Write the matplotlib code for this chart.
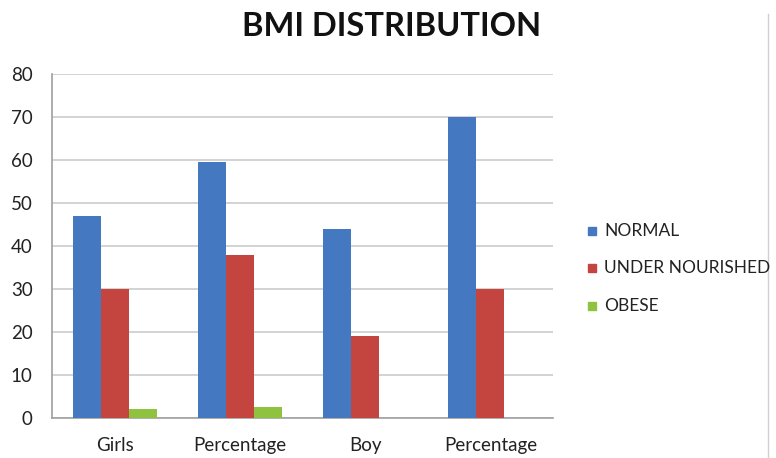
import matplotlib.pyplot as plt
import numpy as np

plt.rcParams['font.family'] = ['Lato', 'DejaVu Sans']

categories = ['Girls', 'Percentage', 'Boy', 'Percentage']
normal = [47, 59.5, 44, 70]
under_nourished = [30, 38, 19, 30]
obese = [2, 2.5, 0, 0]

series = [
    ('NORMAL', normal, '#4479c2'),
    ('UNDER NOURISHED', under_nourished, '#c4453f'),
    ('OBESE', obese, '#8fc23e'),
]

fig = plt.figure(figsize=(7.76, 4.58), dpi=100)
ax = fig.add_axes([0.067, 0.0873, 0.6456, 0.7511])

x = np.arange(len(categories))
w = 0.224
for i, (name, vals, col) in enumerate(series):
    ax.bar(x + (i - 1) * w, vals, width=w, color=col, label=name, zorder=3)

ax.set_xlim(-0.5, len(categories) - 0.5)
ax.set_ylim(0, 80)
ax.set_yticks(range(0, 81, 10))
ax.set_xticks(x)
ax.set_xticklabels(categories)

ax.grid(axis='y', color='#cccccc', linewidth=1.2, zorder=0)
for side in ['top', 'right']:
    ax.spines[side].set_visible(False)
for side in ['left', 'bottom']:
    ax.spines[side].set_color('#a0a0a0')
    ax.spines[side].set_linewidth(1.2)

ax.tick_params(axis='y', length=0, pad=14, labelsize=13.5, labelcolor='#222222')
ax.tick_params(axis='x', length=0, pad=14, labelsize=13.5, labelcolor='#222222')

fig.text(0.505, 1 - 27 / 458, 'BMI DISTRIBUTION', ha='center', va='center',
         fontsize=23.5, fontweight='bold', color='#111111')

# legend drawn as squares + labels to the right of the plot
leg_y = [231, 268, 306]
for (name, vals, col), yy in zip(series, leg_y):
    fy = 1 - yy / 458
    fig.patches.append(plt.Rectangle((588 / 776, fy - 4 / 458), 8 / 776, 8 / 458,
                                     transform=fig.transFigure, color=col))
    fig.text(604 / 776, fy, name, ha='left', va='center', fontsize=12.5,
             color='#222222')

# chart border on the right
fig.add_artist(plt.Line2D([768 / 776, 768 / 776], [0, 1 - 14 / 458],
                          transform=fig.transFigure, color='#d0d0d0', linewidth=1))

fig.savefig('out.png', dpi=100)
